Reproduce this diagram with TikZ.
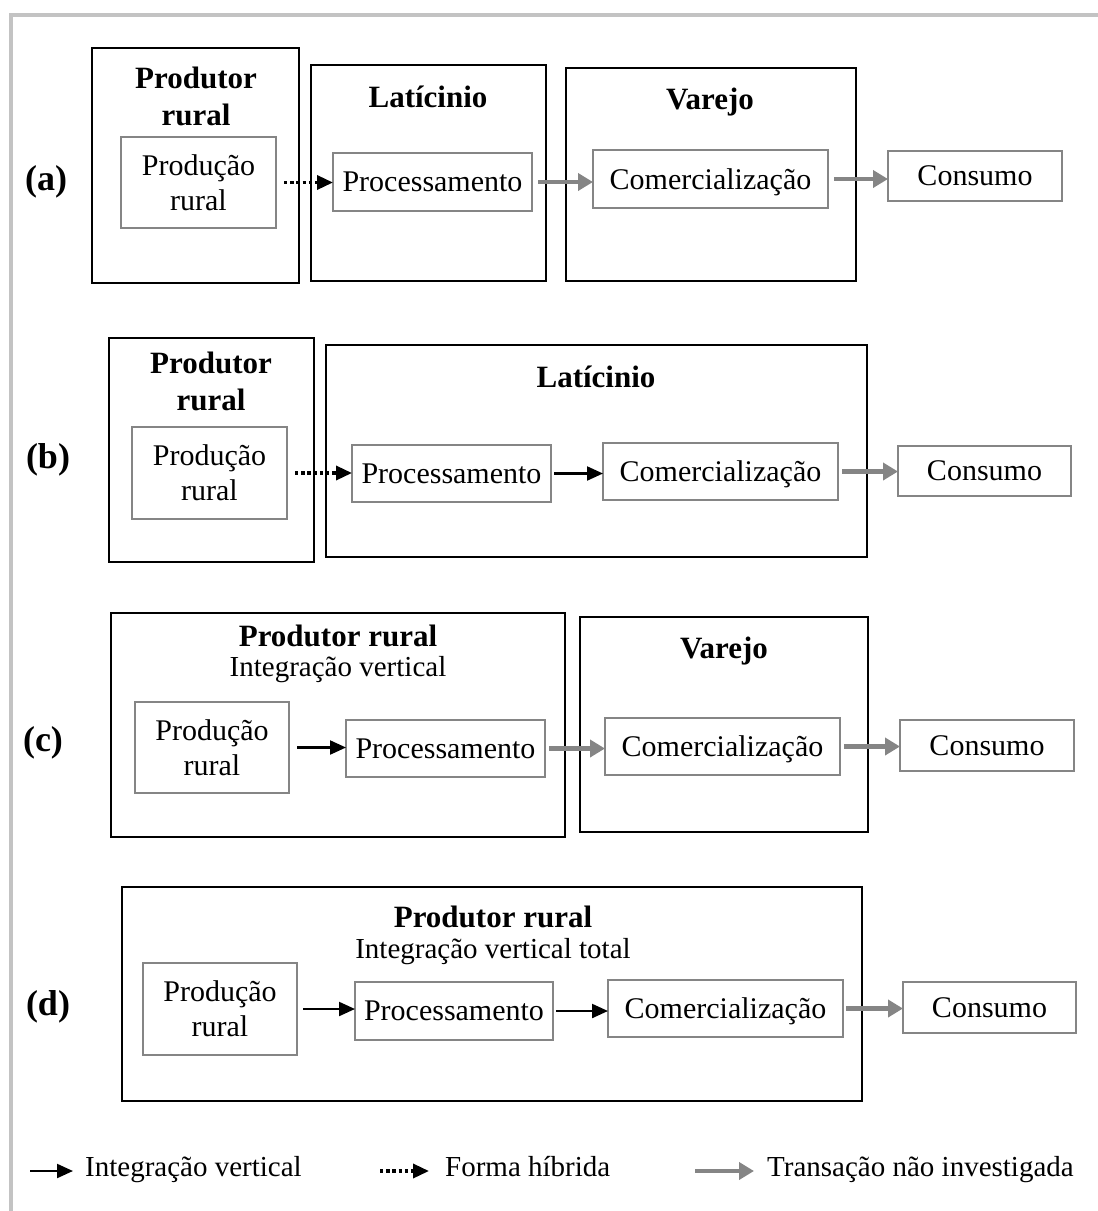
\documentclass[tikz,border=0pt]{standalone}
\usepackage{fontspec}
\setmainfont{Liberation Serif}
\usetikzlibrary{arrows.meta}
\definecolor{graybox}{HTML}{858585}
\definecolor{grayarrow}{HTML}{858585}
\definecolor{framegray}{HTML}{C3C3C3}
\begin{document}
\begin{tikzpicture}[x=1pt,y=-1pt,
  every node/.style={font=\fontsize{30}{35}\selectfont},
  stagebox/.style={draw=black, line width=2pt, anchor=north west, inner sep=0pt, outer sep=0pt},
  actbox/.style={draw=graybox, line width=2.8pt, anchor=north west, inner sep=0pt, outer sep=0pt, align=center},
  flatbox/.style={actbox, text depth=0pt},
  ttl/.style={font=\fontsize{31}{37}\selectfont\bfseries, align=center, inner sep=0pt},
  sub/.style={font=\fontsize{29}{34}\selectfont, inner sep=0pt},
  tag/.style={font=\fontsize{36}{40}\selectfont\bfseries, inner sep=0pt},
  legtext/.style={font=\fontsize{29}{34}\selectfont, anchor=base west, inner sep=0pt},
  intg/.style={-{Triangle[length=16pt,width=14pt]}, line width=2.2pt, black},
  hyb/.style={-{Triangle[length=16pt,width=14pt]}, line width=3.4pt, black, dash pattern=on 3.4pt off 2.8pt},
  nonv/.style={-{Triangle[length=15pt,width=17pt]}, line width=4.2pt, grayarrow},
]
\useasboundingbox (0,0) rectangle (1098,1211);
% outer frame
\draw[framegray, line width=4pt] (11,1215) -- (11,14.5) -- (1102,14.5);

% ---------- (a) ----------
\node[tag] (ta) at (46,182) {(a)};
\node[stagebox, minimum width=207pt, minimum height=235pt] (pra) at (92,48) {};
\node[ttl] (pratl) at (196,96) {Produtor\\rural};
\node[actbox, minimum width=155pt, minimum height=91pt] (proda) at (121,137) {Produção\\rural};
\node[stagebox, minimum width=235pt, minimum height=216pt] (lata) at (311,65) {};
\node[ttl] (latatl) at (428,97) {Latícinio};
\node[actbox, minimum width=199pt, minimum height=58pt] (proca) at (333,153) {Processamento};
\node[stagebox, minimum width=290pt, minimum height=213pt] (vara) at (566,68) {};
\node[ttl] (varatl) at (710,102) {Varejo};
\node[flatbox, minimum width=235pt, minimum height=58pt] (coma) at (593,150) {Comercialização};
\node[actbox, minimum width=174pt, minimum height=50pt] (cona) at (888,151) {Consumo};
\draw[hyb, shorten <=8pt] (proda.east) -- (proda.east -| proca.west);
\draw[nonv, shorten <=6pt] (proca.east) -- (proca.east -| coma.west);
\draw[nonv, shorten <=6pt] (coma.east) -- (coma.east -| cona.west);

% ---------- (b) ----------
\node[tag] (tb) at (48,460) {(b)};
\node[stagebox, minimum width=205pt, minimum height=224pt] (prb) at (109,338) {};
\node[ttl] (prbtl) at (211,381) {Produtor\\rural};
\node[actbox, minimum width=155pt, minimum height=92pt] (prodb) at (132,427) {Produção\\rural};
\node[stagebox, minimum width=541pt, minimum height=212pt] (latb) at (326,345) {};
\node[ttl] (latbtl) at (596,377) {Latícinio};
\node[actbox, minimum width=199pt, minimum height=57pt] (procb) at (352,445) {Processamento};
\node[flatbox, minimum width=235pt, minimum height=57pt] (comb) at (603,443) {Comercialização};
\node[actbox, minimum width=173pt, minimum height=50pt] (conb) at (898,446) {Consumo};
\draw[hyb, shorten <=8pt] (prodb.east) -- (prodb.east -| procb.west);
\draw[intg, shorten <=3pt] (procb.east) -- (procb.east -| comb.west);
\draw[nonv, shorten <=4pt] (comb.east) -- (comb.east -| conb.west);

% ---------- (c) ----------
\node[tag] (tc) at (43,743) {(c)};
\node[stagebox, minimum width=454pt, minimum height=224pt] (prc) at (111,613) {};
\node[ttl] (prctl) at (338,636) {Produtor rural};
\node[sub] (prcsub) at (338,670) {Integração vertical};
\node[actbox, minimum width=154pt, minimum height=91pt] (prodc) at (135,702) {Produção\\rural};
\node[actbox, minimum width=199pt, minimum height=57pt] (procc) at (346,720) {Processamento};
\node[stagebox, minimum width=288pt, minimum height=215pt] (varc) at (580,617) {};
\node[ttl] (varctl) at (724,651) {Varejo};
\node[flatbox, minimum width=235pt, minimum height=57pt] (comc) at (605,718) {Comercialização};
\node[actbox, minimum width=174pt, minimum height=51pt] (conc) at (900,720) {Consumo};
\draw[intg, shorten <=8pt] (prodc.east) -- (prodc.east -| procc.west);
\draw[nonv, shorten <=4pt] (procc.east) -- (procc.east -| comc.west);
\draw[nonv, shorten <=4pt] (comc.east) -- (comc.east -| conc.west);

% ---------- (d) ----------
\node[tag] (td) at (48,1007) {(d)};
\node[stagebox, minimum width=740pt, minimum height=214pt] (prd) at (122,887) {};
\node[ttl] (prdtl) at (493,917) {Produtor rural};
\node[sub] (prdsub) at (493,952) {Integração vertical total};
\node[actbox, minimum width=154pt, minimum height=92pt] (prodd) at (143,963) {Produção\\rural};
\node[actbox, minimum width=198pt, minimum height=58pt] (procd) at (355,982) {Processamento};
\node[flatbox, minimum width=235pt, minimum height=57pt] (comd) at (608,980) {Comercialização};
\node[actbox, minimum width=173pt, minimum height=51pt] (cond) at (903,982) {Consumo};
\draw[intg, shorten <=6pt] (prodd.east) -- (prodd.east -| procd.west);
\draw[intg, shorten <=3pt] (procd.east) -- (procd.east -| comd.west);
\draw[nonv, shorten <=3pt] (comd.east) -- (comd.east -| cond.west);

% ---------- legend ----------
\coordinate (l1a) at (30,1171);
\coordinate (l1b) at (73,1171);
\node[legtext] (l1t) at (85,1176) {Integração vertical};
\coordinate (l2a) at (380,1171);
\coordinate (l2b) at (429,1171);
\node[legtext] (l2t) at (445,1176) {Forma híbrida};
\coordinate (l3a) at (695,1171);
\coordinate (l3b) at (754,1171);
\node[legtext] (l3t) at (767,1176) {Transação não investigada};
\draw[intg] (l1a) -- (l1b);
\draw[hyb] (l2a) -- (l2b);
\draw[nonv] (l3a) -- (l3b);
\end{tikzpicture}
\end{document}
